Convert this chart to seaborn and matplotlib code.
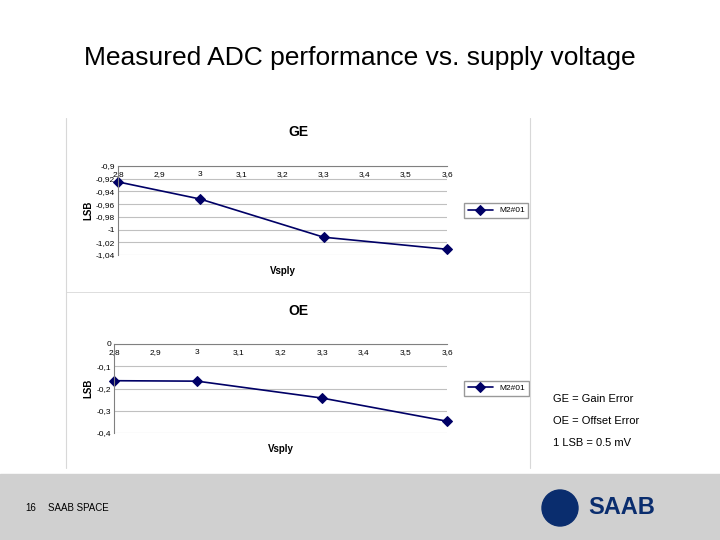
import matplotlib
matplotlib.use("Agg")
import matplotlib.pyplot as plt
import seaborn as sns
import pandas as pd
from matplotlib.ticker import FuncFormatter, MultipleLocator
from matplotlib.patches import Rectangle, Ellipse

sns.set_style("white")
plt.rcParams['font.family'] = ['Liberation Sans', 'DejaVu Sans']
plt.rcParams['text.color'] = 'black'
plt.rcParams['axes.labelcolor'] = 'black'
plt.rcParams['xtick.color'] = 'black'
plt.rcParams['ytick.color'] = 'black'

vsply = [2.8, 3.0, 3.3, 3.6]
ge_values = [-0.925, -0.952, -1.012, -1.031]
oe_values = [-0.165, -0.167, -0.243, -0.347]
series_name = "M2#01"

fig = plt.figure(figsize=(7.2, 5.4), dpi=100)
fig.text(0.5, 0.893, "Measured ADC performance vs. supply voltage", ha="center", va="center", fontsize=19)

for x in [66/720, 530/720]:
    fig.add_artist(plt.Line2D([x, x], [1-118/540, 1-468/540], color="#d8d8d8", lw=0.8))
fig.add_artist(plt.Line2D([66/720, 530/720], [1-292/540]*2, color="#d8d8d8", lw=0.6))

comma = FuncFormatter(lambda v, p: ("%g" % round(v, 3)).replace(".", ","))

def make(ax_rect, vals, title, ylim, ystep, title_y):
    ax = fig.add_axes(ax_rect)
    df = pd.DataFrame({"Vsply": vsply, "LSB": vals})
    sns.lineplot(data=df, x="Vsply", y="LSB", ax=ax, color="#000066", marker="D",
                 markersize=5, markeredgecolor="#000066", lw=1.2)
    for l in ax.lines:
        l.set_clip_on(False)
    ax.set_xlim(2.8, 3.6)
    ax.set_ylim(*ylim)
    ax.xaxis.set_major_locator(MultipleLocator(0.1))
    ax.yaxis.set_major_locator(MultipleLocator(ystep))
    ax.xaxis.set_major_formatter(comma)
    ax.yaxis.set_major_formatter(comma)
    ax.grid(axis="y", color="#c0c0c0", lw=0.8)
    ax.tick_params(axis="x", top=True, labeltop=True, bottom=False, labelbottom=False,
                   pad=-9, labelsize=6, length=0)
    ax.tick_params(axis="y", labelsize=6, length=0, pad=2)
    for s in ax.spines.values():
        s.set_visible(False)
    for k in ["left", "top"]:
        ax.spines[k].set_visible(True); ax.spines[k].set_color("#808080"); ax.spines[k].set_linewidth(0.8)
    ax.set_xlabel("Vsply", fontsize=7, fontweight="bold", labelpad=8)
    ax.set_ylabel("LSB", fontsize=7, fontweight="bold", labelpad=2)
    fig.text(298/720, title_y, title, ha="center", va="center", fontsize=10, fontweight="bold")
    ax.legend([ax.lines[0]], [series_name], loc="center left", bbox_to_anchor=(1.04, 0.5),
              fontsize=6, frameon=True, fancybox=False, edgecolor="#808080", handlelength=3)
    return ax

make([118/720, 1-255/540, 329/720, 89/540], ge_values, "GE", (-1.04, -0.9), 0.02, 1-132/540)
make([114/720, 1-433/540, 333/720, 89/540], oe_values, "OE", (-0.4, 0.0), 0.1, 1-311/540)

for i, t in enumerate(["GE = Gain Error", "OE = Offset Error", "1 LSB = 0.5 mV"]):
    fig.text(553/720, 1-(399+22*i)/540, t, fontsize=8, va="center", ha="left")

fig.add_artist(Rectangle((0, 0), 1, 66/540, transform=fig.transFigure, color="#d0d0d0", zorder=0))
fig.text(25/720, 1-508/540, "16", fontsize=7, va="center")
fig.text(48/720, 1-508/540, "SAAB SPACE", fontsize=7, va="center")
fig.text(622/720, 1-508/540, "SAAB", fontsize=17, fontweight="bold", color="#0a2d6e", ha="center", va="center")
fig.add_artist(Ellipse((560/720, 1-508/540), 36/720, 36/540, transform=fig.transFigure, color="#0a2d6e"))

fig.savefig("out.png", dpi=100)
